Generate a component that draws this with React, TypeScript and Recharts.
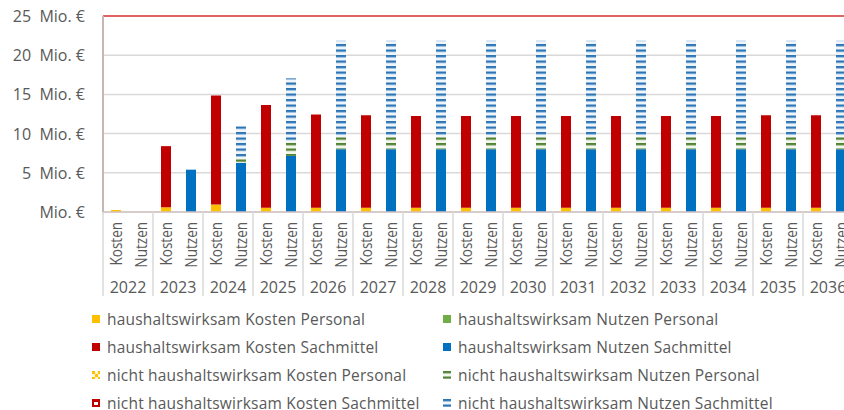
import React from 'react';
import { BarChart, Bar, XAxis, YAxis, CartesianGrid, ReferenceLine } from 'recharts';

const years = ['2022', '2023', '2024', '2025', '2026', '2027', '2028', '2029', '2030', '2031', '2032', '2033', '2034', '2035', '2036'];

// Mio. € per year
const kostenPersonalHW = [0.25, 0.6, 0.95, 0.55, 0.55, 0.55, 0.55, 0.55, 0.55, 0.55, 0.55, 0.55, 0.55, 0.55, 0.55];
const kostenSachHW = [0, 7.8, 13.9, 13.1, 11.9, 11.8, 11.7, 11.7, 11.7, 11.7, 11.7, 11.7, 11.7, 11.8, 11.8];
const kostenPersonalNHW = [0, 0, 0, 0, 0, 0, 0, 0, 0, 0, 0, 0, 0, 0, 0];
const kostenSachNHW = [0, 0, 0, 0, 0, 0, 0, 0, 0, 0, 0, 0, 0, 0, 0];
const nutzenPersonalHW = [0, 0, 0, 0, 0, 0, 0, 0, 0, 0, 0, 0, 0, 0, 0];
const nutzenSachHW = [0, 5.4, 6.25, 7.15, 8.0, 8.0, 8.0, 8.0, 8.0, 8.0, 8.0, 8.0, 8.0, 8.0, 8.0];
const nutzenPersonalNHW = [0, 0, 0.75, 1.8, 1.6, 1.6, 1.6, 1.6, 1.6, 1.6, 1.6, 1.6, 1.6, 1.6, 1.6];
const nutzenSachNHW = [0, 0, 3.95, 8.1, 12.25, 12.25, 12.25, 12.25, 12.25, 12.25, 12.25, 12.25, 12.25, 12.25, 12.25];

const yTicks = [0, 5, 10, 15, 20, 25];

const rows = years.flatMap((y, i) => [
  { key: y + '-K', year: y, type: 'Kosten', hwKP: kostenPersonalHW[i], hwKS: kostenSachHW[i], nhwKP: kostenPersonalNHW[i], nhwKS: kostenSachNHW[i] },
  { key: y + '-N', year: y, type: 'Nutzen', hwNP: nutzenPersonalHW[i], hwNS: nutzenSachHW[i], nhwNP: nutzenPersonalNHW[i], nhwNS: nutzenSachNHW[i] },
]);

const FONT = '"Open Sans", sans-serif';
const TEXT = '#595959';

const legendItems = [
  { name: 'haushaltswirksam Kosten Personal', fill: '#ffc000' },
  { name: 'haushaltswirksam Nutzen Personal', fill: '#70ad47' },
  { name: 'haushaltswirksam Kosten Sachmittel', fill: '#c00000' },
  { name: 'haushaltswirksam Nutzen Sachmittel', fill: '#0070c0' },
  { name: 'nicht haushaltswirksam Kosten Personal', fill: 'url(#patYellow)' },
  { name: 'nicht haushaltswirksam Nutzen Personal', fill: 'url(#patGreen)' },
  { name: 'nicht haushaltswirksam Kosten Sachmittel', fill: 'url(#patRed)' },
  { name: 'nicht haushaltswirksam Nutzen Sachmittel', fill: 'url(#patBlue)' },
];

const YTick = ({ x, y, payload }: any) => (
  <text x={x} y={y} dy={6} textAnchor="end" fill={TEXT} fontSize={16} fontFamily={FONT} xmlSpace="preserve" style={{ whiteSpace: 'pre' }}>
    {payload.value === 0 ? 'Mio. €' : `${payload.value}  Mio. €`}
  </text>
);

const XTick = ({ x, y, payload, index }: any) => {
  const i = index ?? payload.index;
  const row = rows[i];
  if (!row) return null;
  const isKosten = row.type === 'Kosten';
  return (
    <g>
      <text transform={`translate(${x + 6},${y + 10}) rotate(-90) scale(1,1.25)`} textAnchor="end" fill={TEXT} fontSize={13.5} fontFamily={FONT}>
        {row.type}
      </text>
      {isKosten && (
        <>
          <line x1={x - 12.5} x2={x - 12.5} y1={y} y2={y + 84} stroke="#d9d9d9" strokeWidth={1.5} />
          <text x={x + 12.5} y={y + 81} textAnchor="middle" fill={TEXT} fontSize={16} fontFamily={FONT}>
            {row.year}
          </text>
        </>
      )}
      {i === rows.length - 1 && <line x1={x + 12.5} x2={x + 12.5} y1={y} y2={y + 84} stroke="#d9d9d9" strokeWidth={1.5} />}
    </g>
  );
};

const Patterns = () => (
  <svg width={0} height={0} style={{ position: 'absolute' }}>
    <defs>
      <pattern id="patBlue" patternUnits="userSpaceOnUse" width={10} height={5.5}>
        <rect width={10} height={5.5} fill="#eef6fb" />
        <rect width={10} height={2.3} fill="#2e75b6" />
      </pattern>
      <pattern id="patGreen" patternUnits="userSpaceOnUse" width={10} height={5.5}>
        <rect width={10} height={5.5} fill="#f2f7ee" />
        <rect width={10} height={2.3} fill="#548235" />
      </pattern>
      <pattern id="patYellow" patternUnits="userSpaceOnUse" width={6} height={6}>
        <rect width={6} height={6} fill="#fff8e0" />
        <rect width={3} height={3} fill="#ffc000" />
        <rect x={3} y={3} width={3} height={3} fill="#ffc000" />
      </pattern>
      <pattern id="patRed" patternUnits="userSpaceOnUse" width={8} height={8}>
        <rect width={8} height={8} fill="#c00000" />
        <rect x={2} y={3} width={4} height={3} fill="#ffffff" />
      </pattern>
    </defs>
  </svg>
);

const Legend = () => (
  <div style={{ position: 'absolute', left: 0, top: 0, fontFamily: FONT, fontSize: 15.5, letterSpacing: 0.2, color: TEXT }}>
    {legendItems.map((it, i) => {
      const col = i % 2;
      const row = Math.floor(i / 2);
      return (
        <div key={it.name} style={{ position: 'absolute', left: col === 0 ? 92 : 443, top: 307.5 + row * 28, whiteSpace: 'nowrap', display: 'flex', alignItems: 'center', height: 22 }}>
          <svg width={8} height={8} style={{ marginRight: 7 }}>
            <rect width={8} height={8} fill={it.fill} />
          </svg>
          <span>{it.name}</span>
        </div>
      );
    })}
  </div>
);

export default function App() {
  return (
    <div style={{ position: 'absolute', left: 0, top: 0, width: 844, height: 410, overflow: 'hidden', background: '#fff' }}>
      <Patterns />
      <BarChart width={860} height={300} data={rows} margin={{ top: 16, right: 7, bottom: 4, left: 0 }} barSize={10}>
        <CartesianGrid vertical={false} stroke="#d9d9d9" strokeWidth={1.5} />
        <XAxis dataKey="key" interval={0} height={84} tickSize={0} tickMargin={0} tickLine={false} axisLine={{ stroke: '#d3c3c3', strokeWidth: 1.5 }} tick={<XTick />} />
        <YAxis domain={[0, 25]} ticks={yTicks} width={103} tickSize={0} tickMargin={18} tickLine={false} axisLine={{ stroke: '#c9b5b5', strokeWidth: 2 }} tick={<YTick />} />
        <ReferenceLine y={25} stroke="#e03a3a" strokeWidth={1.5} />
        <Bar dataKey="hwKP" stackId="a" fill="#ffc000" isAnimationActive={false} />
        <Bar dataKey="hwNP" stackId="a" fill="#70ad47" isAnimationActive={false} />
        <Bar dataKey="hwKS" stackId="a" fill="#c00000" isAnimationActive={false} />
        <Bar dataKey="hwNS" stackId="a" fill="#0070c0" isAnimationActive={false} />
        <Bar dataKey="nhwKP" stackId="a" fill="url(#patYellow)" isAnimationActive={false} />
        <Bar dataKey="nhwNP" stackId="a" fill="url(#patGreen)" isAnimationActive={false} />
        <Bar dataKey="nhwKS" stackId="a" fill="url(#patRed)" isAnimationActive={false} />
        <Bar dataKey="nhwNS" stackId="a" fill="url(#patBlue)" isAnimationActive={false} />
      </BarChart>
      <Legend />
    </div>
  );
}
